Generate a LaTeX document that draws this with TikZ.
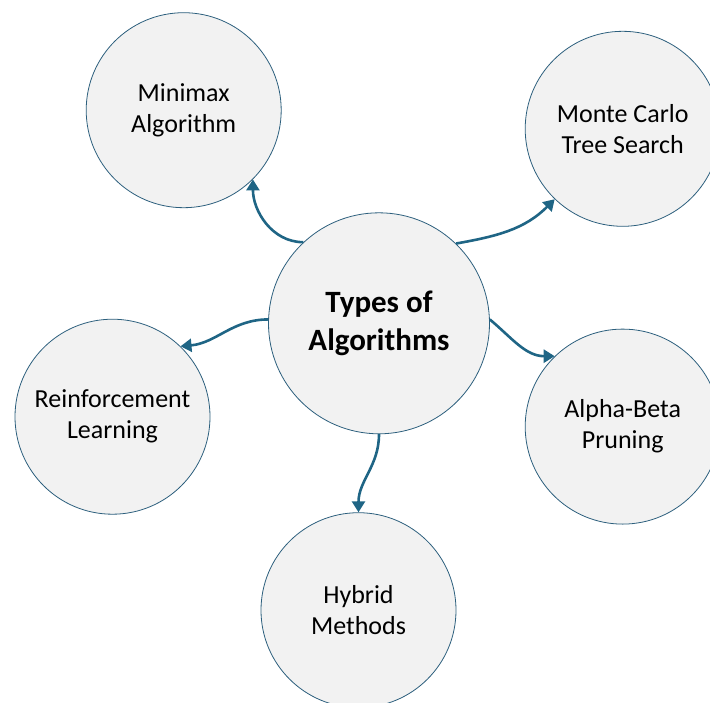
\documentclass[tikz,border=0pt]{standalone}
\usepackage{fontspec}
\setmainfont{Carlito}
\usetikzlibrary{arrows.meta}
\definecolor{circlefill}{HTML}{F2F2F2}
\definecolor{circleline}{RGB}{44,95,125}
\definecolor{arrowblue}{RGB}{31,101,133}

\begin{document}
\begin{tikzpicture}[x=1pt,y=1pt,
    topic/.style={circle,draw=circleline,line width=0.8pt,fill=circlefill,
        minimum size=195pt,inner sep=0pt,align=center,
        font=\fontsize{26}{31}\selectfont},
    hub/.style={topic,minimum size=221pt,font=\fontsize{31}{38}\selectfont\bfseries},
    link/.style={draw=arrowblue,line width=2.6pt,-{Triangle[length=11pt,width=13pt]}}]
    \useasboundingbox (0,0) rectangle (710,-702);
    % centre
    \node[hub] (types) at (379,-323.3) {Types of\\Algorithms};
    % the five kinds
    \node[topic] (minimax) at (183.7,-110.2) {Minimax\\Algorithm};
    \node[topic] (mcts) at (622.7,-128.8) {Monte Carlo\\Tree Search};
    \node[topic] (rl) at (112.5,-416.7) {Reinforcement\\Learning};
    \node[topic] (ab) at (622.7,-426.6) {Alpha-Beta\\Pruning};
    \node[topic] (hybrid) at (358.5,-610.2) {Hybrid\\Methods};

    \draw[link] (types.133) to[out=180,in=-90] (minimax.-45);
    \draw[link] (types.46) to[out=10,in=225] (mcts.-134);
    \draw[link] (types.178) to[out=180,in=5] (rl.46);
    \draw[link] (types.2) to[out=-40,in=180] (ab.134);
    \draw[link] (types.-90) to[out=-90,in=90] (hybrid.90);
\end{tikzpicture}
\end{document}
